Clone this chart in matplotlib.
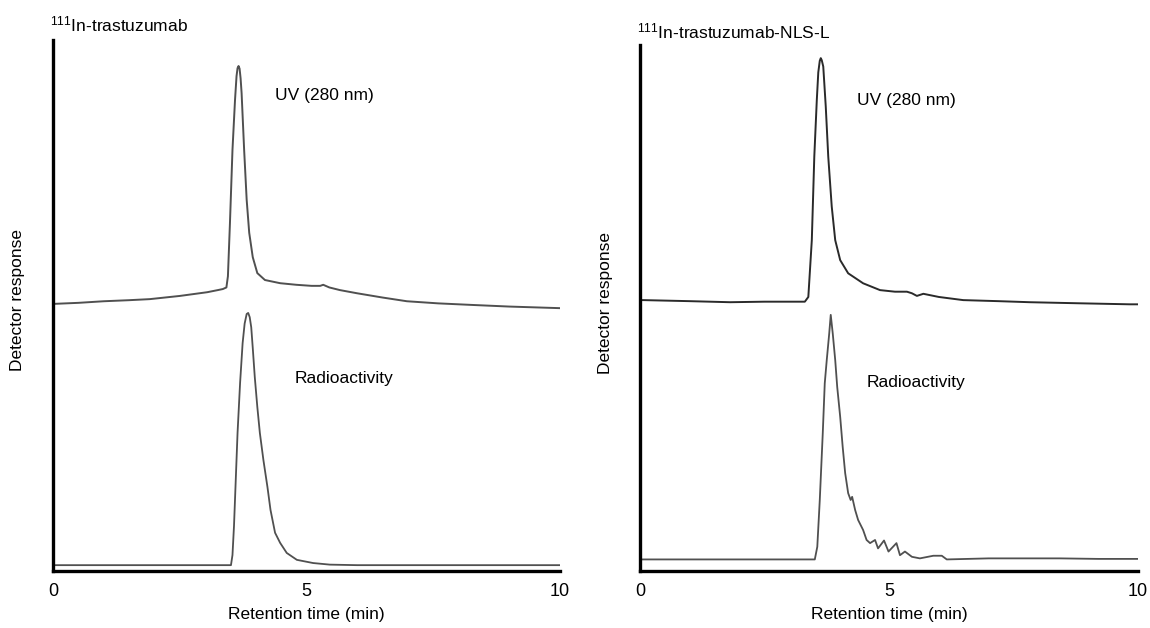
"""
Size-exclusion HPLC traces for 111In-trastuzumab and 111In-trastuzumab-NLS-L.
UV (280 nm) trace sits above the radioactivity trace on a shared response axis.
"""
import matplotlib.pyplot as plt

plt.rcParams["font.family"] = ["Liberation Sans", "DejaVu Sans"]
plt.rcParams["mathtext.fontset"] = "custom"
plt.rcParams["mathtext.rm"] = "Liberation Sans"
plt.rcParams["mathtext.default"] = "regular"

# --- 111In-trastuzumab ---------------------------------------------------
uv_a_t = [0.00, 0.50, 1.00, 1.50, 1.91, 2.50, 3.04, 3.25, 3.35, 3.42, 3.45,
          3.49, 3.54, 3.59, 3.62, 3.64, 3.66, 3.68, 3.70, 3.72, 3.77, 3.82,
          3.87, 3.94, 4.03, 4.18, 4.48, 4.80, 5.10, 5.27, 5.33, 5.45, 5.66,
          6.00, 6.50, 6.98, 7.60, 8.28, 9.00, 10.00]
uv_a = [50.3, 50.5, 50.8, 51.0, 51.2, 51.8, 52.5, 52.9, 53.1, 53.4, 55.5,
        65.5, 79.3, 88.7, 93.2, 94.7, 95.1, 94.6, 92.8, 90.0, 79.3, 69.9,
        63.7, 59.1, 56.1, 54.8, 54.2, 53.9, 53.7, 53.7, 53.9, 53.4, 52.9,
        52.3, 51.5, 50.8, 50.4, 50.1, 49.8, 49.5]

rad_a_t = [0.00, 1.00, 2.00, 3.00, 3.51, 3.54, 3.57, 3.60, 3.64, 3.69, 3.74,
           3.78, 3.82, 3.85, 3.88, 3.91, 3.94, 3.98, 4.03, 4.08, 4.15, 4.23,
           4.29, 4.38, 4.48, 4.61, 4.81, 5.13, 5.46, 6.00, 7.00, 8.00, 9.00,
           10.00]
rad_a = [1.1, 1.1, 1.1, 1.1, 1.1, 3.0, 8.5, 16.0, 26.0, 35.4, 42.9,
         46.6, 48.4, 48.6, 47.8, 45.9, 42.0, 36.5, 30.9, 26.0, 20.9, 15.8,
         11.5, 7.2, 5.3, 3.4, 2.1, 1.5, 1.2, 1.1, 1.1, 1.1, 1.1,
         1.1]

# --- 111In-trastuzumab-NLS-L --------------------------------------------
uv_b_t = [0.00, 0.07, 1.00, 1.81, 2.50, 3.31, 3.38, 3.45, 3.50, 3.55, 3.58,
          3.61, 3.63, 3.65, 3.68, 3.73, 3.78, 3.85, 3.92, 4.02, 4.18, 4.48,
          4.82, 5.12, 5.36, 5.46, 5.56, 5.69, 6.00, 6.49, 7.20, 7.83, 8.80,
          9.84, 10.00]
uv_b = [51.5, 51.5, 51.3, 51.1, 51.2, 51.2, 52.1, 62.9, 78.8, 89.5, 94.8,
        97.0, 97.5, 97.1, 95.9, 88.3, 78.8, 69.3, 62.9, 59.1, 56.6, 54.7,
        53.4, 53.1, 53.1, 52.8, 52.3, 52.7, 52.1, 51.5, 51.3, 51.1, 50.9,
        50.7, 50.7]

rad_b_t = [0.00, 1.00, 2.41, 3.51, 3.56, 3.61, 3.67, 3.71, 3.75, 3.80, 3.83,
           3.87, 3.92, 3.96, 4.02, 4.07, 4.12, 4.18, 4.23, 4.26, 4.32, 4.38,
           4.48, 4.55, 4.62, 4.72, 4.78, 4.90, 4.99, 5.15, 5.22, 5.32, 5.46,
           5.62, 5.89, 6.06, 6.16, 7.00, 8.43, 9.20, 10.00]
rad_b = [2.2, 2.2, 2.2, 2.2, 4.6, 13.5, 26.2, 35.7, 40.1, 45.2, 48.7,
         45.2, 40.1, 35.0, 29.3, 23.6, 18.6, 14.8, 13.5, 14.1, 11.6, 9.7,
         7.8, 5.9, 5.3, 5.9, 4.3, 5.8, 3.7, 5.3, 3.0, 3.7, 2.7,
         2.4, 2.9, 2.9, 2.2, 2.4, 2.4, 2.3, 2.3]

xticks = [0, 5, 10]

panels = [
    dict(title="$^{111}$In-trastuzumab", uv=(uv_a_t, uv_a), rad=(rad_a_t, rad_a),
         rect=[53 / 1150, 57 / 628, 507 / 1150, 531 / 628],
         title_xy=(50 / 1150, 1 - 31 / 628), uv_lbl=(4.38, 89.6),
         rad_lbl=(4.77, 36.3), uv_color="#505050", ylab_x=-0.055),
    dict(title="$^{111}$In-trastuzumab-NLS-L", uv=(uv_b_t, uv_b), rad=(rad_b_t, rad_b),
         rect=[640 / 1150, 57 / 628, 498 / 1150, 526 / 628],
         title_xy=(637 / 1150, 1 - 38 / 628), uv_lbl=(4.36, 89.5),
         rad_lbl=(4.56, 35.9), uv_color="#2a2a2a", ylab_x=-0.054),
]

fig = plt.figure(figsize=(11.5, 6.28), dpi=100)

for p in panels:
    ax = fig.add_axes(p["rect"])
    ax.plot(*p["uv"], color=p["uv_color"], lw=1.4)
    ax.plot(*p["rad"], color="#505050", lw=1.3)

    ax.set_xlim(0, 10)
    ax.set_ylim(0, 100)
    ax.set_xticks(xticks)
    ax.set_yticks([])
    ax.tick_params(axis="x", length=0, pad=9, labelsize=13)
    for side in ("top", "right"):
        ax.spines[side].set_visible(False)
    for side in ("left", "bottom"):
        ax.spines[side].set_linewidth(2.4)
        ax.spines[side].set_color("black")

    ax.set_xlabel("Retention time (min)", fontsize=12.5, labelpad=5)
    ax.set_ylabel("Detector response", fontsize=12.5)
    ax.yaxis.set_label_coords(p["ylab_x"], 0.51)

    ax.text(*p["uv_lbl"], "UV (280 nm)", fontsize=12.5, ha="left", va="center")
    ax.text(*p["rad_lbl"], "Radioactivity", fontsize=12.5, ha="left", va="center")
    fig.text(*p["title_xy"], p["title"], fontsize=12.5, ha="left", va="baseline")

fig.savefig("out.png", dpi=100)
